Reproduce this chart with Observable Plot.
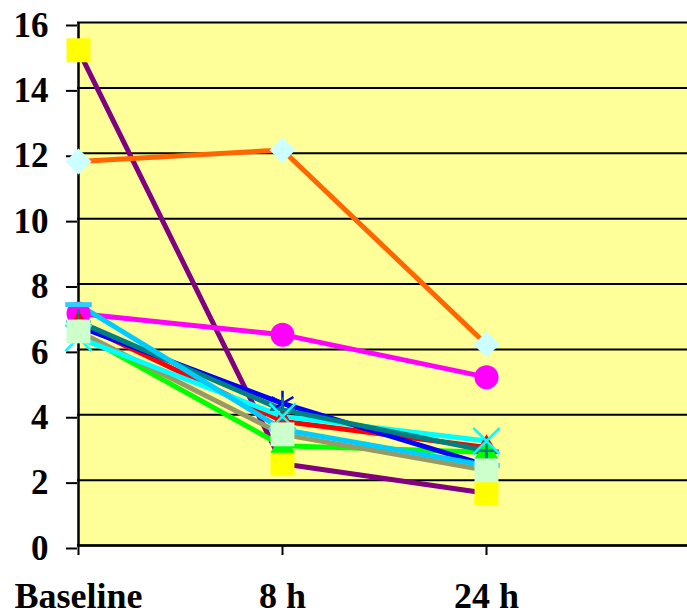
<!DOCTYPE html>
<html><head><meta charset="utf-8">
<script src="https://cdn.jsdelivr.net/npm/d3@7"></script>
<script src="https://cdn.jsdelivr.net/npm/@observablehq/plot@0.6"></script>
<style>
body{margin:0;background:#fff;}
#chart svg text{font-family:"Liberation Serif","Times New Roman",Times,serif !important;font-weight:bold !important;}
</style>
</head><body><div id="chart"></div>
<script>
// ---- data ----
const categories = ["Baseline", "8 h", "24 h"];
const yTicks = [0, 2, 4, 6, 8, 10, 12, 14, 16];
const purpleSeries = [15.15, 2.5, 1.6];
const orangeSeries = [11.75, 12.1, 6.15];
const magentaSeries = [7.1, 6.45, 5.15];
const redSeries = [6.8, 3.8, 3.0];
const greenSeries = [6.5, 3.05, 2.85];
const greySeries = [6.55, 3.4, 2.3];
const cyanSeries = [6.35, 3.95, 3.2];
const blueSeries = [6.7, 4.35, 2.45];
const tealSeries = [6.85, 4.15, 2.9];
const lightBlueSeries = [7.37, 3.55, 2.45];

const table = (values) => categories.map((c, i) => ({cat: c, value: values[i]}));

// custom dash marker
const dashSymbol = {
  draw(ctx, size) {
    const s = Math.sqrt(size), w = s * 0.75, h = s * 0.14;
    ctx.moveTo(-w, -h); ctx.lineTo(w, -h); ctx.lineTo(w, h); ctx.lineTo(-w, h); ctx.closePath();
  }
};

// ---- styles (drawing order) ----
const lineStyles = [
  [purpleSeries, "#800080"],
  [orangeSeries, "#FF6600"],
  [magentaSeries, "#FF00FF"],
  [redSeries, "#FF0000"],
  [greenSeries, "#00FF00"],
  [greySeries, "#999966"],
  [cyanSeries, "#00FFFF"],
  [blueSeries, "#0000FF"],
  [tealSeries, "#008080"],
  [lightBlueSeries, "#00CCFF"]
];
const markerStyles = [
  [purpleSeries, {symbol: "square", r: 13.5, fill: "#FFFF00"}],
  [orangeSeries, {symbol: "diamond2", r: 11.7, fill: "#CCFFFF"}],
  [magentaSeries, {symbol: "circle", r: 12, fill: "#FF00FF"}],
  [redSeries, {symbol: "triangle", r: 8.5, fill: "#FF0000"}],
  [greenSeries, {symbol: "triangle", r: 9, fill: "#00FF00"}],
  [lightBlueSeries, {symbol: dashSymbol, r: 10, fill: "#33CCFF"}],
  [blueSeries, {symbol: "asterisk", r: 12, fill: "none", stroke: "#0000FF", strokeWidth: 2.5}],
  [tealSeries, {symbol: "plus", r: 8, fill: "none", stroke: "#008080", strokeWidth: 2.5}],
  [cyanSeries, {symbol: "times", r: 12, fill: "none", stroke: "#00FFFF", strokeWidth: 2.5}],
  [greySeries, {symbol: "square", r: 13.5, fill: "#CCFFCC"}]
];

const font = "Liberation Serif";

const chart = Plot.plot({
  width: 687,
  height: 615,
  marginLeft: 77,
  marginRight: 0,
  marginTop: 22,
  marginBottom: 70,
  style: {fontFamily: font, fontWeight: "bold", background: "#fff", color: "#000"},
  x: {type: "point", domain: [...categories, ""], range: [77, 691.5], padding: 0, label: null},
  y: {domain: [0, 16], label: null},
  marks: [
    Plot.frame({fill: "#FFFF99", stroke: null}),
    Plot.gridY(yTicks, {stroke: "#000", strokeOpacity: 1, strokeWidth: 2}),
    Plot.ruleX([categories[0]], {y1: 0, y2: 16, stroke: "#000", strokeWidth: 2.5}),
    Plot.ruleY([0], {stroke: "#000", strokeWidth: 2.5}),
    Plot.axisY(yTicks, {tickSize: 11, tickPadding: 18, fontSize: 35, fontWeight: "bold", fontFamily: font, strokeWidth: 2, label: null, dy: 3}),
    Plot.axisX(categories, {tickSize: 10, tickPadding: 26.5, fontSize: 36, fontWeight: "bold", fontFamily: font, strokeWidth: 2, label: null}),
    ...lineStyles.map(([vals, color]) =>
      Plot.line(table(vals), {x: "cat", y: "value", stroke: color, strokeWidth: 5, strokeLinejoin: "round"})),
    ...markerStyles.map(([vals, st]) =>
      Plot.dot(table(vals), {x: "cat", y: "value", stroke: "none", ...st}))
  ]
});
document.getElementById("chart").appendChild(chart);
</script>
</body></html>
